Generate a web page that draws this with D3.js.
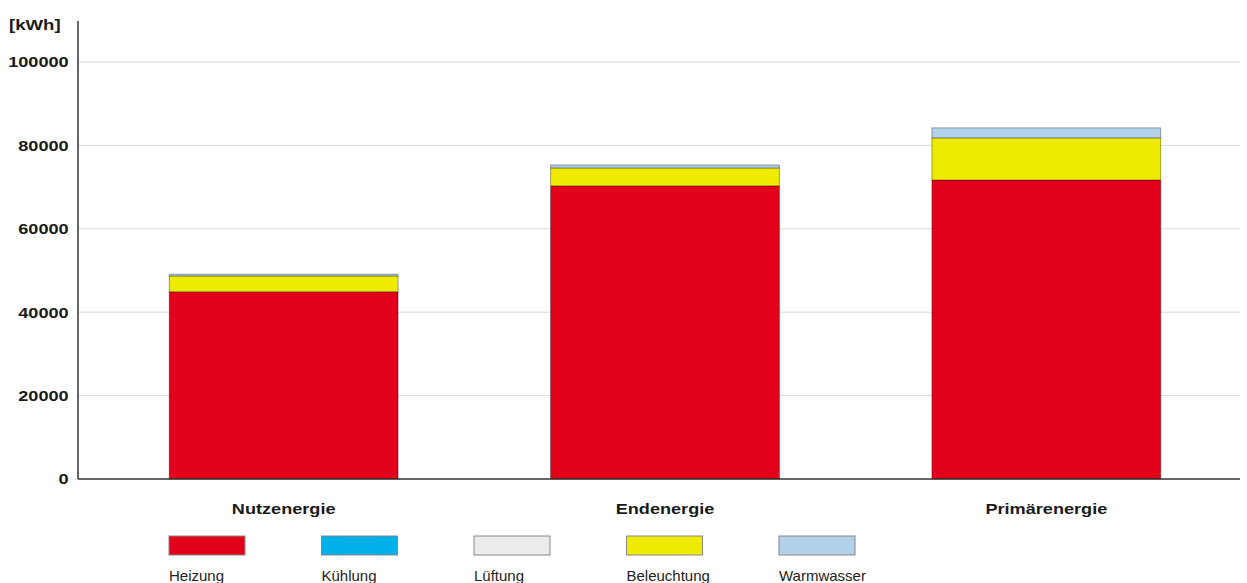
<!DOCTYPE html>
<html>
<head>
<meta charset="utf-8">
<script src="https://cdn.jsdelivr.net/npm/d3@7"></script>
<style>
  html, body { margin: 0; padding: 0; background: #fff; }
  svg { display: block; font-family: Arial, "Liberation Sans", sans-serif; }
</style>
</head>
<body>
<svg id="chart"></svg>
<script>
// categories and series (kWh)
const categories = ["Nutzenergie", "Endenergie", "Primärenergie"];
const seriesNames = ["Heizung", "Kühlung", "Lüftung", "Beleuchtung", "Warmwasser"];
const heizung     = [44900, 70300, 71700];
const kuehlung    = [0, 0, 0];
const lueftung    = [0, 0, 0];
const beleuchtung = [3800, 4300, 10100];
const warmwasser  = [400, 700, 2400];
const yTicks = [0, 20000, 40000, 60000, 80000, 100000];
const colors = ["#e2001a", "#00b0e8", "#ececec", "#eeea00", "#b3d1e8"];

const width = 1247, height = 583;
const margin = { top: 21, right: 7, bottom: 104, left: 78 };
const stretch = 1.17; // the original bold labels are drawn horizontally wide

const svg = d3.select("#chart")
  .attr("width", width)
  .attr("height", height);

const rows = categories.map((c, i) => ({
  cat: c,
  Heizung: heizung[i],
  "Kühlung": kuehlung[i],
  "Lüftung": lueftung[i],
  Beleuchtung: beleuchtung[i],
  Warmwasser: warmwasser[i]
}));

const stack = d3.stack().keys(seriesNames)(rows);

const x = d3.scaleBand()
  .domain(categories)
  .range([93, width - 10])
  .paddingInner(0.4)
  .paddingOuter(0.2);

const y = d3.scaleLinear()
  .domain([0, 110000])
  .range([height - margin.bottom, height - margin.bottom - 417 * 1.1]);

const color = d3.scaleOrdinal().domain(seriesNames).range(colors);

// gridlines
svg.append("g")
  .selectAll("line")
  .data(yTicks.filter(d => d > 0))
  .join("line")
  .attr("x1", margin.left)
  .attr("x2", width - margin.right)
  .attr("y1", d => y(d))
  .attr("y2", d => y(d))
  .attr("stroke", "#d9d9d9")
  .attr("stroke-width", 1);

// bars
const layers = svg.append("g")
  .selectAll("g")
  .data(stack)
  .join("g")
  .attr("fill", d => color(d.key));

layers.selectAll("rect")
  .data(d => d.filter(s => s[1] - s[0] > 0))
  .join("rect")
  .attr("x", d => x(d.data.cat))
  .attr("width", x.bandwidth())
  .attr("y", d => y(d[1]))
  .attr("height", d => y(d[0]) - y(d[1]))
  .attr("stroke", "rgba(0,0,0,0.35)")
  .attr("stroke-width", 1);

// y axis
const yAxis = d3.axisLeft(y).tickValues(yTicks).tickSize(0).tickPadding(8).tickFormat(d3.format("d"));
const gY = svg.append("g")
  .attr("transform", `translate(${margin.left},0)`)
  .call(yAxis);
gY.select(".domain").remove();
gY.selectAll("text")
  .attr("transform", `scale(${stretch},1)`)
  .style("font-size", "15.5px")
  .style("font-weight", "bold")
  .attr("fill", "#1a1a1a");

svg.append("line")
  .attr("x1", margin.left).attr("x2", margin.left)
  .attr("y1", margin.top).attr("y2", y(0))
  .attr("stroke", "#333").attr("stroke-width", 1.5);

svg.append("line")
  .attr("x1", margin.left).attr("x2", width - margin.right)
  .attr("y1", y(0)).attr("y2", y(0))
  .attr("stroke", "#333").attr("stroke-width", 1.5);

svg.append("text")
  .attr("transform", `translate(9,30) scale(1.2,1)`)
  .style("font-size", "15.5px")
  .style("font-weight", "bold")
  .attr("fill", "#1a1a1a")
  .text("[kWh]");

// category labels
svg.append("g")
  .selectAll("text")
  .data(categories)
  .join("text")
  .attr("transform", d => `translate(${x(d) + x.bandwidth() / 2},514) scale(${stretch},1)`)
  .attr("text-anchor", "middle")
  .style("font-size", "15.5px")
  .style("font-weight", "bold")
  .attr("fill", "#1a1a1a")
  .text(d => d);

// legend
const legend = svg.append("g")
  .selectAll("g")
  .data(seriesNames)
  .join("g")
  .attr("transform", (d, i) => `translate(${169 + i * 152.5},536)`);

legend.append("rect")
  .attr("width", 76)
  .attr("height", 19)
  .attr("fill", d => color(d))
  .attr("stroke", "#888")
  .attr("stroke-width", 1);

legend.append("text")
  .attr("x", 0)
  .attr("y", 45)
  .style("font-size", "15px")
  .attr("fill", "#222")
  .text(d => d);
</script>
</body>
</html>
